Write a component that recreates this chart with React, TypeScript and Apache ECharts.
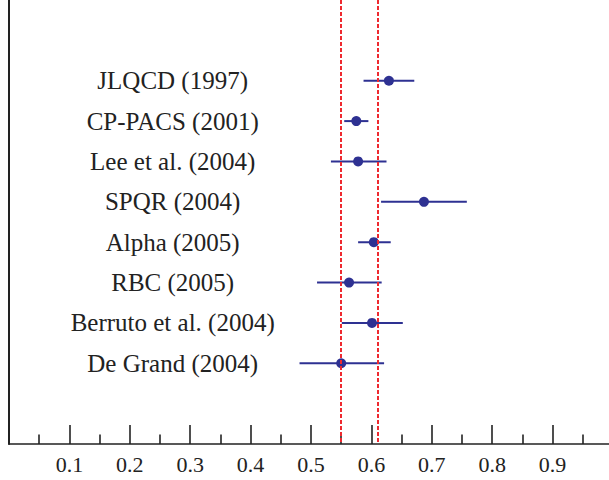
import React, { useEffect, useRef } from "react";
import * as echarts from "echarts";

const labels = [
  "JLQCD (1997)",
  "CP-PACS (2001)",
  "Lee et al. (2004)",
  "SPQR (2004)",
  "Alpha (2005)",
  "RBC (2005)",
  "Berruto et al. (2004)",
  "De Grand (2004)",
];
const centers = [0.629, 0.575, 0.578, 0.687, 0.604, 0.563, 0.601, 0.55];
const lows = [0.587, 0.555, 0.533, 0.616, 0.578, 0.51, 0.551, 0.481];
const highs = [0.671, 0.595, 0.625, 0.758, 0.632, 0.617, 0.652, 0.621];
const refLines = [0.55, 0.61];
const labelX = 0.271;

const BLUE = "#2e3192";
const INK = "#222222";
const RED = "#ee2a30";
const SERIF = "Liberation Serif";

export default function App() {
  const ref = useRef<HTMLDivElement>(null);
  useEffect(() => {
    if (!ref.current) return;
    const chart = echarts.init(ref.current, undefined, { renderer: "svg" });
    chart.setOption({
      animation: false,
      backgroundColor: "#ffffff",
      textStyle: { fontFamily: SERIF },
      grid: { left: 9, top: 0, right: 0, height: 444 },
      xAxis: {
        type: "value",
        min: 0,
        max: 1,
        interval: 0.1,
        axisLine: { show: true, onZero: false, lineStyle: { color: INK, width: 1.6 } },
        axisTick: { show: true, inside: true, length: 19, lineStyle: { color: INK, width: 1.6 } },
        minorTick: { show: true, splitNumber: 2, length: 9.5, lineStyle: { color: INK, width: 1.6 } },
        splitLine: { show: false },
        minorSplitLine: { show: false },
        axisLabel: {
          show: true,
          margin: 9,
          color: INK,
          fontFamily: SERIF,
          fontSize: 22,
          formatter: (v: number) => (v <= 0 || v >= 0.999 ? "" : v.toFixed(1)),
        },
      },
      yAxis: {
        type: "value",
        min: -2,
        max: 9,
        inverse: true,
        axisLine: { show: true, onZero: false, lineStyle: { color: INK, width: 2 } },
        axisTick: { show: false },
        axisLabel: { show: false },
        splitLine: { show: false },
      },
      series: [
        {
          type: "custom",
          name: "err",
          data: labels.map((_, i) => [lows[i], highs[i], i]),
          encode: { x: [0, 1], y: 2 },
          renderItem: (params: any, api: any) => {
            const a = api.coord([api.value(0), api.value(2)]);
            const b = api.coord([api.value(1), api.value(2)]);
            return {
              type: "line",
              shape: { x1: a[0], y1: a[1], x2: b[0], y2: b[1] },
              style: { stroke: BLUE, lineWidth: 2 },
            };
          },
        },
        {
          type: "scatter",
          name: "pts",
          data: centers.map((v, i) => [v, i]),
          symbol: "circle",
          symbolSize: 10,
          itemStyle: { color: BLUE, opacity: 1 },
          markLine: {
            silent: true,
            symbol: "none",
            label: { show: false },
            lineStyle: { color: RED, type: [4, 2], width: 2 },
            data: refLines.map((v) => ({ xAxis: v })),
          },
          z: 3,
        },
        {
          type: "custom",
          name: "labels",
          data: labels.map((_, i) => [labelX, i]),
          encode: { x: 0, y: 1 },
          renderItem: (params: any, api: any) => {
            const p = api.coord([api.value(0), api.value(1)]);
            return {
              type: "text",
              x: p[0],
              y: p[1],
              style: {
                text: labels[params.dataIndex],
                fill: INK,
                fontFamily: SERIF,
                fontSize: 25,
                align: "center",
                verticalAlign: "middle",
              },
            };
          },
        },
      ],
    });
    return () => chart.dispose();
  }, []);
  return (
    <div
      style={{
        position: "fixed",
        left: 0,
        top: 0,
        width: 609,
        height: 480,
        overflow: "hidden",
        background: "#fff",
      }}
    >
      <div ref={ref} style={{ width: 616, height: 480 }} />
    </div>
  );
}
